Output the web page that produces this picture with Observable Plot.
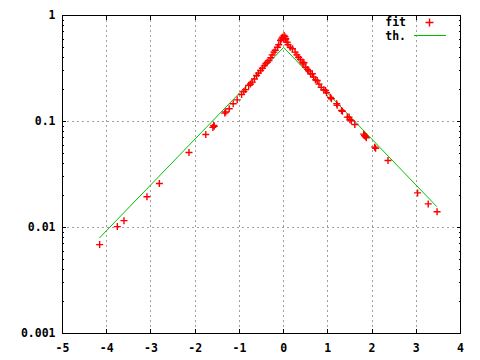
<!DOCTYPE html>
<html><head><meta charset="utf-8">
<script src="https://cdn.jsdelivr.net/npm/d3@7"></script>
<script src="https://cdn.jsdelivr.net/npm/@observablehq/plot@0.6"></script>
<style>
body{margin:0;background:#fff}
#wrap{position:relative;width:480px;height:360px}
#wrap svg text{font-family:"DejaVu Sans Mono",monospace;font-weight:bold;font-size:11.5px}
</style>
</head><body><div id="wrap"></div>
<script>
// data
const fitX = [-4.16,-3.76,-3.61,-3.09,-2.81,-2.14,-1.76,-1.60,-1.58,-1.57,-1.33,-1.31,-1.23,-1.14,-1.05,-0.95,-0.90,-0.86,-0.79,-0.75,-0.71,-0.66,-0.61,-0.57,-0.52,-0.48,-0.44,-0.41,-0.37,-0.33,-0.29,-0.26,-0.22,-0.19,-0.14,-0.11,-0.07,-0.05,-0.03,0.01,0.00,0.03,0.04,0.05,0.08,0.10,0.15,0.20,0.26,0.30,0.34,0.38,0.42,0.44,0.46,0.50,0.54,0.57,0.61,0.65,0.68,0.72,0.76,0.80,0.85,0.91,0.95,0.97,1.06,1.08,1.20,1.21,1.31,1.33,1.44,1.48,1.50,1.53,1.61,1.81,1.83,1.85,1.87,2.06,2.08,2.36,3.03,3.27,3.47];
const fitY = [0.0069,0.0102,0.0116,0.0195,0.026,0.051,0.0754,0.088,0.0916,0.090,0.120,0.123,0.132,0.147,0.160,0.180,0.192,0.200,0.219,0.226,0.235,0.252,0.272,0.286,0.303,0.318,0.335,0.350,0.362,0.376,0.400,0.425,0.451,0.470,0.502,0.530,0.581,0.600,0.625,0.648,0.600,0.630,0.590,0.603,0.560,0.530,0.502,0.485,0.451,0.425,0.404,0.385,0.363,0.350,0.358,0.325,0.310,0.300,0.282,0.282,0.262,0.247,0.244,0.225,0.210,0.199,0.196,0.187,0.169,0.164,0.147,0.142,0.127,0.125,0.110,0.110,0.104,0.102,0.0937,0.076,0.0738,0.072,0.0702,0.0573,0.056,0.0429,0.0212,0.0167,0.0141];
const thX = [-4.16, 0, 3.46];
const thY = [0.0080, 0.50, 0.0158];
const xTicks = [-5,-4,-3,-2,-1,0,1,2,3,4];
const xGrid = [-4,-3,-2,-1,0,1,2,3];
const yTicks = [0.001,0.01,0.1,1];
const yGrid = [0.01,0.1];
const yMinor = [0.002,0.003,0.004,0.005,0.006,0.007,0.008,0.009,0.02,0.03,0.04,0.05,0.06,0.07,0.08,0.09,0.2,0.3,0.4,0.5,0.6,0.7,0.8,0.9];
const yLabels = ["0.001","0.01","0.1","1"];
const legendLabels = ["fit","th."];

const fit = fitX.map((x,i)=>({x, y: fitY[i]}));
const th = thX.map((x,i)=>({x, y: thY[i]}));

const plus = {draw(ctx, size){ const r = Math.sqrt(size/Math.PI); ctx.moveTo(-r,0); ctx.lineTo(r,0); ctx.moveTo(0,-r); ctx.lineTo(0,r); }};
const fmtY = d => yLabels[yTicks.indexOf(d)] ?? "";
const blank = () => "";
const ax = {label: null, shapeRendering: "crispEdges"};

const chart = Plot.plot({
  width: 480, height: 360,
  marginLeft: 62, marginRight: 20, marginTop: 15, marginBottom: 27,
  style: {fontFamily: "DejaVu Sans Mono", fontWeight: "bold", fontSize: "11.5px", color: "black", background: "white"},
  x: {domain: [-5, 4], label: null},
  y: {type: "log", domain: [0.001, 1], label: null},
  marks: [
    Plot.gridX(xGrid, {stroke: "#a0a0a0", strokeOpacity: 1, strokeDasharray: "2,3", shapeRendering: "crispEdges"}),
    Plot.gridY(yGrid, {stroke: "#a0a0a0", strokeOpacity: 1, strokeDasharray: "2,3", shapeRendering: "crispEdges"}),
    Plot.line(th, {x: "x", y: "y", stroke: "#00c000", strokeWidth: 1}),
    Plot.dot(fit, {x: "x", y: "y", symbol: plus, r: 3.5, fill: "none", stroke: "#ff0000", strokeWidth: 1.4}),
    Plot.frame({stroke: "black", shapeRendering: "crispEdges"}),
    Plot.axisX(xTicks, {...ax, anchor: "bottom", tickSize: -4, tickPadding: 14, tickFormat: d => String(d)}),
    Plot.axisX(xTicks, {...ax, anchor: "top", tickSize: -4, tickFormat: blank, fill: "none"}),
    Plot.axisY(yTicks, {...ax, anchor: "left", tickSize: -4, tickPadding: 11, tickFormat: fmtY}),
    Plot.axisY(yTicks, {...ax, anchor: "right", tickSize: -4, tickFormat: blank, fill: "none"}),
    Plot.axisY(yMinor, {...ax, anchor: "left", tickSize: -2, tickFormat: blank, fill: "none"}),
    Plot.axisY(yMinor, {...ax, anchor: "right", tickSize: -2, tickFormat: blank, fill: "none"})
  ]
});
const wrap = document.getElementById("wrap");
wrap.appendChild(chart);

// key (legend) overlay
const ns = "http://www.w3.org/2000/svg";
const key = document.createElementNS(ns, "svg");
key.setAttribute("width", 480); key.setAttribute("height", 50);
key.style.position = "absolute"; key.style.left = "0px"; key.style.top = "0px";
legendLabels.forEach((lab, i) => {
  const t = document.createElementNS(ns, "text");
  t.setAttribute("x", 406); t.setAttribute("y", 22 + i*14);
  t.setAttribute("text-anchor", "end"); t.setAttribute("dominant-baseline", "central");
  t.textContent = lab;
  key.appendChild(t);
});
const p = document.createElementNS(ns, "path");
p.setAttribute("d", "M425.5,22.5h8M429.5,18.5v8");
p.setAttribute("stroke", "#ff0000"); p.setAttribute("stroke-width", 1.4); p.setAttribute("fill", "none");
key.appendChild(p);
const l = document.createElementNS(ns, "path");
l.setAttribute("d", "M414,35.5H446");
l.setAttribute("stroke", "#00c000"); l.setAttribute("stroke-width", 1);
key.appendChild(l);
wrap.appendChild(key);
</script>
</body></html>
